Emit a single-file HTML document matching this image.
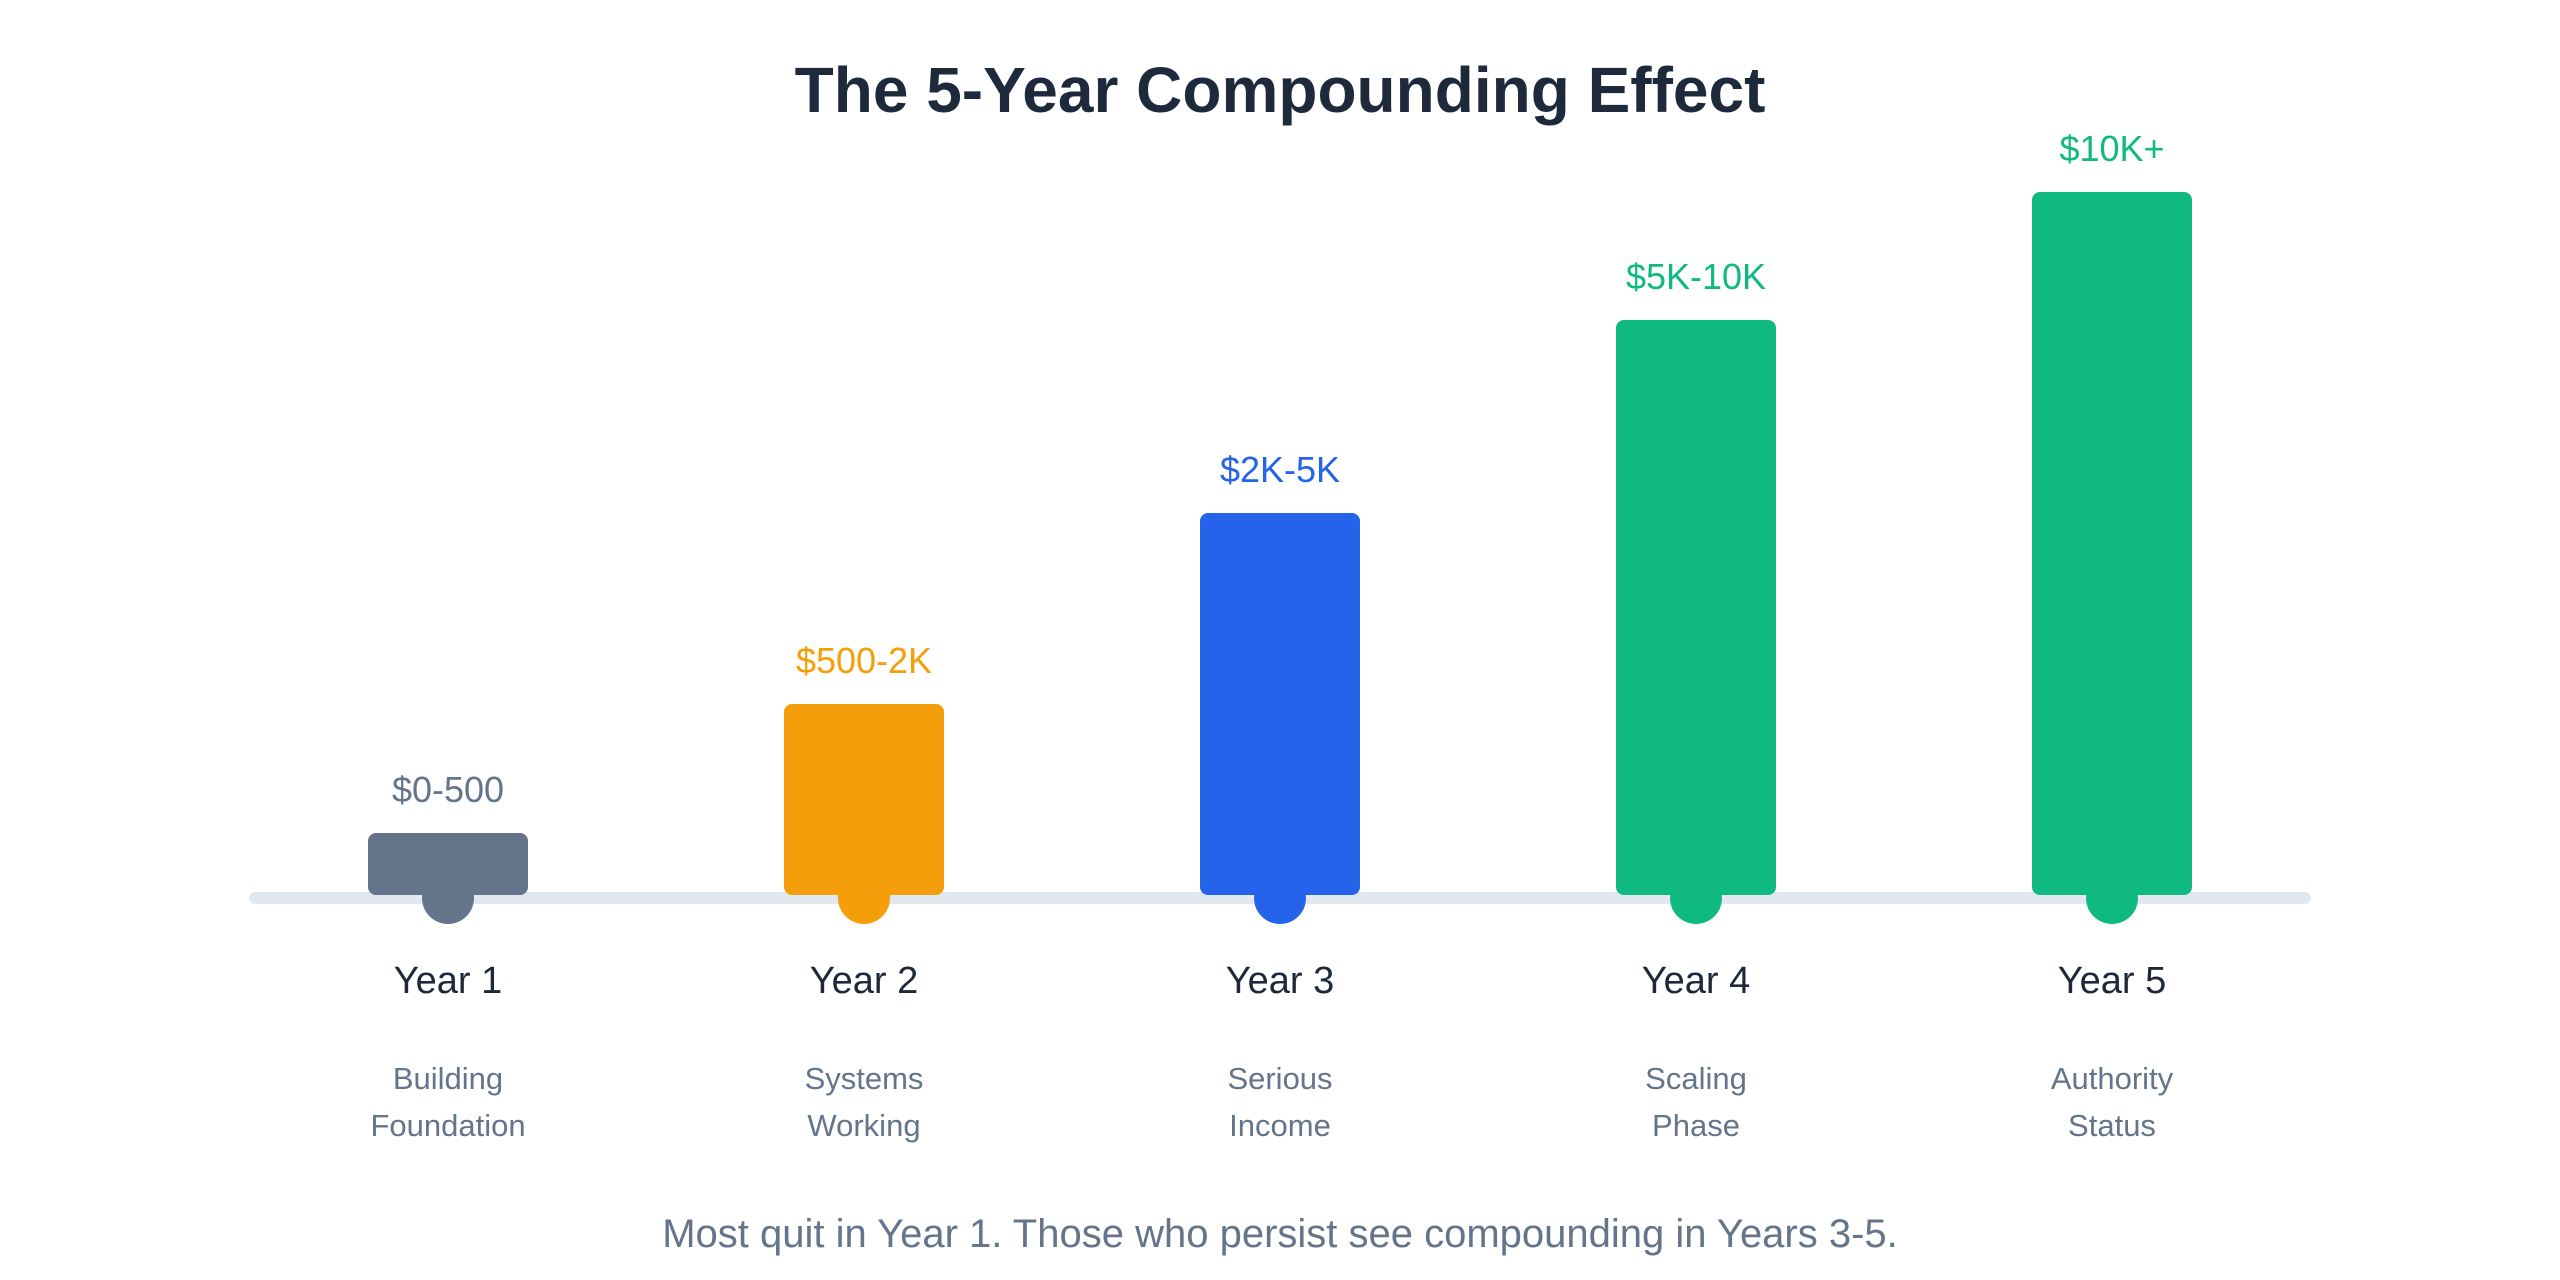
<!DOCTYPE html>
<html><head><meta charset="utf-8"><style>
html,body{margin:0;padding:0;background:#fff;}
svg{display:block;}
text{font-family:"Liberation Sans",sans-serif;text-anchor:middle;}
</style></head><body>
<svg width="2560" height="1280" viewBox="0 0 2560 1280">
<text x="1280" y="112" font-size="64" font-weight="bold" fill="#1e293b">The 5-Year Compounding Effect</text>
<rect x="249" y="892" width="2062" height="12" rx="6" fill="#e2e8f0"/>
<g>
<rect x="368" y="833" width="160" height="62" rx="8" fill="#64748b"/>
<circle cx="448" cy="898" r="26" fill="#64748b"/>
<text x="448" y="802" font-size="36" fill="#64748b">$0-500</text>
<rect x="784" y="704" width="160" height="191" rx="8" fill="#f59e0b"/>
<circle cx="864" cy="898" r="26" fill="#f59e0b"/>
<text x="864" y="673" font-size="36" fill="#f59e0b">$500-2K</text>
<rect x="1200" y="513" width="160" height="382" rx="8" fill="#2563eb"/>
<circle cx="1280" cy="898" r="26" fill="#2563eb"/>
<text x="1280" y="482" font-size="36" fill="#2563eb">$2K-5K</text>
<rect x="1616" y="320" width="160" height="575" rx="8" fill="#10b981"/>
<circle cx="1696" cy="898" r="26" fill="#10b981"/>
<text x="1696" y="289" font-size="36" fill="#10b981">$5K-10K</text>
<rect x="2032" y="192" width="160" height="703" rx="8" fill="#10b981"/>
<circle cx="2112" cy="898" r="26" fill="#10b981"/>
<text x="2112" y="161" font-size="36" fill="#10b981">$10K+</text>
</g>
<g font-size="38" fill="#1e293b">
<text x="448" y="993">Year 1</text>
<text x="864" y="993">Year 2</text>
<text x="1280" y="993">Year 3</text>
<text x="1696" y="993">Year 4</text>
<text x="2112" y="993">Year 5</text>
</g>
<g font-size="31" fill="#64748b">
<text x="448" y="1089">Building</text><text x="448" y="1136">Foundation</text>
<text x="864" y="1089">Systems</text><text x="864" y="1136">Working</text>
<text x="1280" y="1089">Serious</text><text x="1280" y="1136">Income</text>
<text x="1696" y="1089">Scaling</text><text x="1696" y="1136">Phase</text>
<text x="2112" y="1089">Authority</text><text x="2112" y="1136">Status</text>
</g>
<text x="1280" y="1247" font-size="40" fill="#64748b">Most quit in Year 1. Those who persist see compounding in Years 3-5.</text>
</svg>
</body></html>
